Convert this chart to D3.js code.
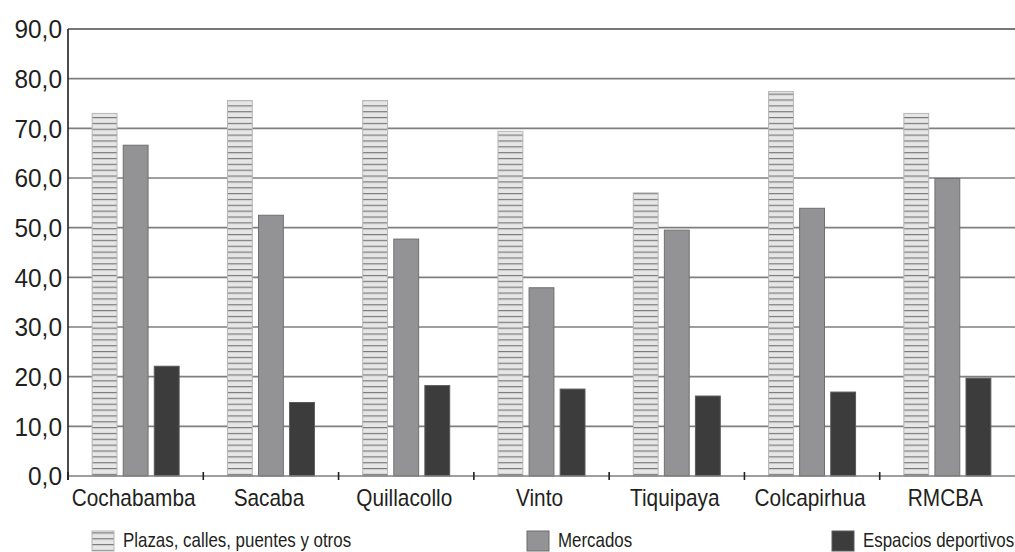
<!DOCTYPE html>
<html><head><meta charset="utf-8">
<script src="https://cdn.jsdelivr.net/npm/d3@7"></script>
<style>
html,body{margin:0;padding:0;background:#fff;}
svg{display:block;}
text{font-family:"Liberation Sans",Arial,sans-serif;fill:#231f20;}
</style></head>
<body>
<svg id="c" width="1015" height="552"></svg>
<script>
const categories = ["Cochabamba","Sacaba","Quillacollo","Vinto","Tiquipaya","Colcapirhua","RMCBA"];
const seriesNames = ["Plazas, calles, puentes y otros","Mercados","Espacios deportivos"];
const plazas = [73.0, 75.6, 75.6, 69.4, 57.0, 77.4, 73.0];
const mercados = [66.6, 52.5, 47.7, 37.9, 49.5, 53.9, 59.9];
const deportivos = [22.1, 14.8, 18.2, 17.5, 16.1, 16.9, 19.7];
const yTicks = [0,10,20,30,40,50,60,70,80,90];

const svg = d3.select("#c");
const m = {l:68, r:1015, t:29, b:476};
const x = d3.scaleBand().domain(categories).range([m.l, m.r]).paddingInner(0).paddingOuter(0);
const y = d3.scaleLinear().domain([0,90]).range([m.b, m.t]);
const x1 = d3.scaleBand().domain([0,1,2]).range([0, 87]).paddingInner(0.2);

const defs = svg.append("defs");
const pat = defs.append("pattern").attr("id","hatch").attr("patternUnits","userSpaceOnUse")
  .attr("width",8).attr("height",5.85);
pat.append("rect").attr("width",8).attr("height",5.85).attr("fill","#e6e6e7");
pat.append("line").attr("x1",0).attr("x2",8).attr("y1",0.6).attr("y2",0.6).attr("stroke","#7a7a7a").attr("stroke-width",1.2);

// gridlines
svg.append("g").selectAll("line").data(yTicks.filter(d=>d>0)).join("line")
  .attr("x1",m.l).attr("x2",m.r).attr("y1",d=>y(d)).attr("y2",d=>y(d))
  .attr("stroke",d=>d===90?"#4a4a4a":"#7f7f7f").attr("stroke-width",1.6);

// bars
const fills = ["url(#hatch)","#939396","#3c3c3c"];
const strokes = ["#b5b5b5","#6f6f6f","#5a5a5a"];
const data = [plazas, mercados, deportivos];
categories.forEach((c,i)=>{
  const g0 = x(c) + (x.bandwidth()-87)/2;
  data.forEach((s,k)=>{
    svg.append("rect")
      .attr("x", g0 + x1(k)).attr("width", x1.bandwidth())
      .attr("y", y(s[i])).attr("height", y(0)-y(s[i]))
      .attr("fill", fills[k]).attr("stroke", strokes[k]).attr("stroke-width",1);
  });
});

// baseline axis
svg.append("line").attr("x1",m.l).attr("x2",m.r).attr("y1",y(0)).attr("y2",y(0))
  .attr("stroke","#7f7f7f").attr("stroke-width",1.6);
// y axis line
svg.append("line").attr("x1",m.l).attr("x2",m.l).attr("y1",m.t).attr("y2",m.b+4)
  .attr("stroke","#231f20").attr("stroke-width",1.6);
// category ticks
const bounds = categories.map(c=>x(c));
svg.append("g").selectAll("line").data(bounds).join("line")
  .attr("x1",d=>d).attr("x2",d=>d).attr("y1",m.b-4).attr("y2",m.b+4)
  .attr("stroke","#231f20").attr("stroke-width",1.6);

// y labels (condensed via horizontal scale)
svg.append("g").selectAll("text").data(yTicks).join("text")
  .attr("transform",d=>`translate(62,${y(d)}) scale(0.94,1)`)
  .attr("dy","0.358em").attr("text-anchor","end")
  .style("font-size","26px").text(d=>d3.format(".1f")(d).replace(".",","));

// category labels
svg.append("g").selectAll("text").data(categories).join("text")
  .attr("transform",d=>`translate(${x(d)+x.bandwidth()/2 - 2},506) scale(0.85,1)`)
  .attr("text-anchor","middle")
  .style("font-size","24.5px").text(d=>d);

// legend
const legX = [92, 527, 832];
seriesNames.forEach((n,k)=>{
  svg.append("rect").attr("x",legX[k]).attr("y",531).attr("width",22).attr("height",20)
    .attr("fill",fills[k]).attr("stroke",strokes[k]).attr("stroke-width",1);
  svg.append("text").attr("transform",`translate(${legX[k]+31},547) scale(0.845,1)`)
    .style("font-size","20px").text(n);
});
</script>
</body></html>
